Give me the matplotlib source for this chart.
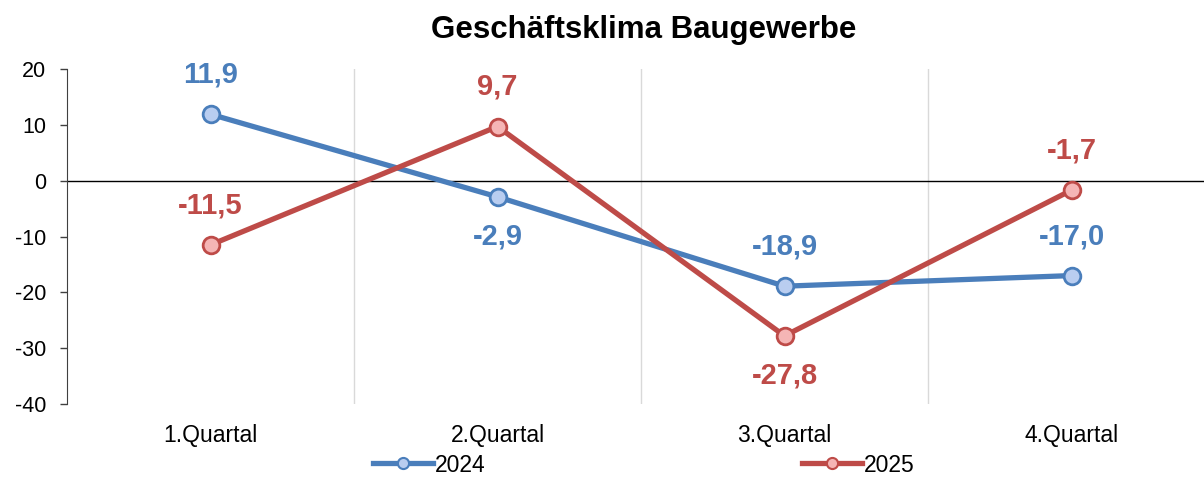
import matplotlib
matplotlib.use("Agg")
import matplotlib.pyplot as plt
from matplotlib.lines import Line2D

plt.rcParams['font.family'] = ['Liberation Sans', 'DejaVu Sans']
plt.rcParams['axes.unicode_minus'] = False

quarters = ['1.Quartal', '2.Quartal', '3.Quartal', '4.Quartal']
values_2024 = [11.9, -2.9, -18.9, -17.0]
values_2025 = [-11.5, 9.7, -27.8, -1.7]
# label above (+1) or below (-1) the point
pos_2024 = [1, -1, 1, 1]
pos_2025 = [1, 1, -1, 1]

BLUE = '#4A7EBB'
BLUE_LIGHT = '#B9CDF0'
RED = '#BE4B48'
RED_LIGHT = '#F5B5B5'


def fmt(v):
    return f"{v:.1f}".replace('.', ',')


fig = plt.figure(figsize=(12.04, 4.79), dpi=100)
ax = fig.add_axes([67 / 1204, 1 - 404 / 479, 1 - 67 / 1204, 335 / 479])

x = range(len(quarters))
series = [
    (values_2024, pos_2024, BLUE, BLUE_LIGHT, '2024'),
    (values_2025, pos_2025, RED, RED_LIGHT, '2025'),
]
for vals, pos, col, fill, name in series:
    ax.plot(x, vals, color=col, linewidth=3.8, marker='o', markersize=12,
            markerfacecolor=fill, markeredgecolor=col, markeredgewidth=2,
            zorder=4, clip_on=False)
    for xi, v, p in zip(x, vals, pos):
        ax.annotate(fmt(v), (xi, v), xytext=(0, 28.5 * p), textcoords='offset points',
                    ha='center', va='center', fontsize=21, fontweight='bold',
                    color=col, zorder=5)

ax.set_xlim(-0.5, -0.5 + (1204 - 67) / 287)
ax.set_ylim(-40, 20)
ax.set_yticks(range(-40, 21, 10))
ax.tick_params(axis='y', labelsize=15.5, direction='out', length=5, width=1,
               pad=10, colors='#404040', labelcolor='black')
ax.set_xticks([])
for xi, q in zip(x, quarters):
    ax.text(xi, -45.6, q, ha='center', va='center', fontsize=16.5,
            transform=ax.transData)

for b in [0.5, 1.5, 2.5]:
    ax.axvline(b, color='#D9D9D9', linewidth=1, zorder=1)
ax.axhline(0, color='black', linewidth=1, zorder=2)

for s in ['top', 'right', 'bottom']:
    ax.spines[s].set_visible(False)
ax.spines['left'].set_color('#404040')

fig.text(0.535, 1 - 30 / 479, 'Geschäftsklima Baugewerbe', ha='center',
         va='center', fontsize=22.5, fontweight='bold')

handles = [
    Line2D([], [], color=BLUE, linewidth=3.8, marker='o', markersize=8,
           markerfacecolor=BLUE_LIGHT, markeredgecolor=BLUE, markeredgewidth=1.5),
    Line2D([], [], color=RED, linewidth=3.8, marker='o', markersize=8,
           markerfacecolor=RED_LIGHT, markeredgecolor=RED, markeredgewidth=1.5),
]
fig.legend(handles, ['2024', '2025'], loc='center', bbox_to_anchor=(0.535, 1 - 465 / 479),
           ncol=2, frameon=False, fontsize=16.5, handlelength=2.6,
           handletextpad=0.1, columnspacing=13.8, borderpad=0)

fig.savefig('out.png', dpi=100)
